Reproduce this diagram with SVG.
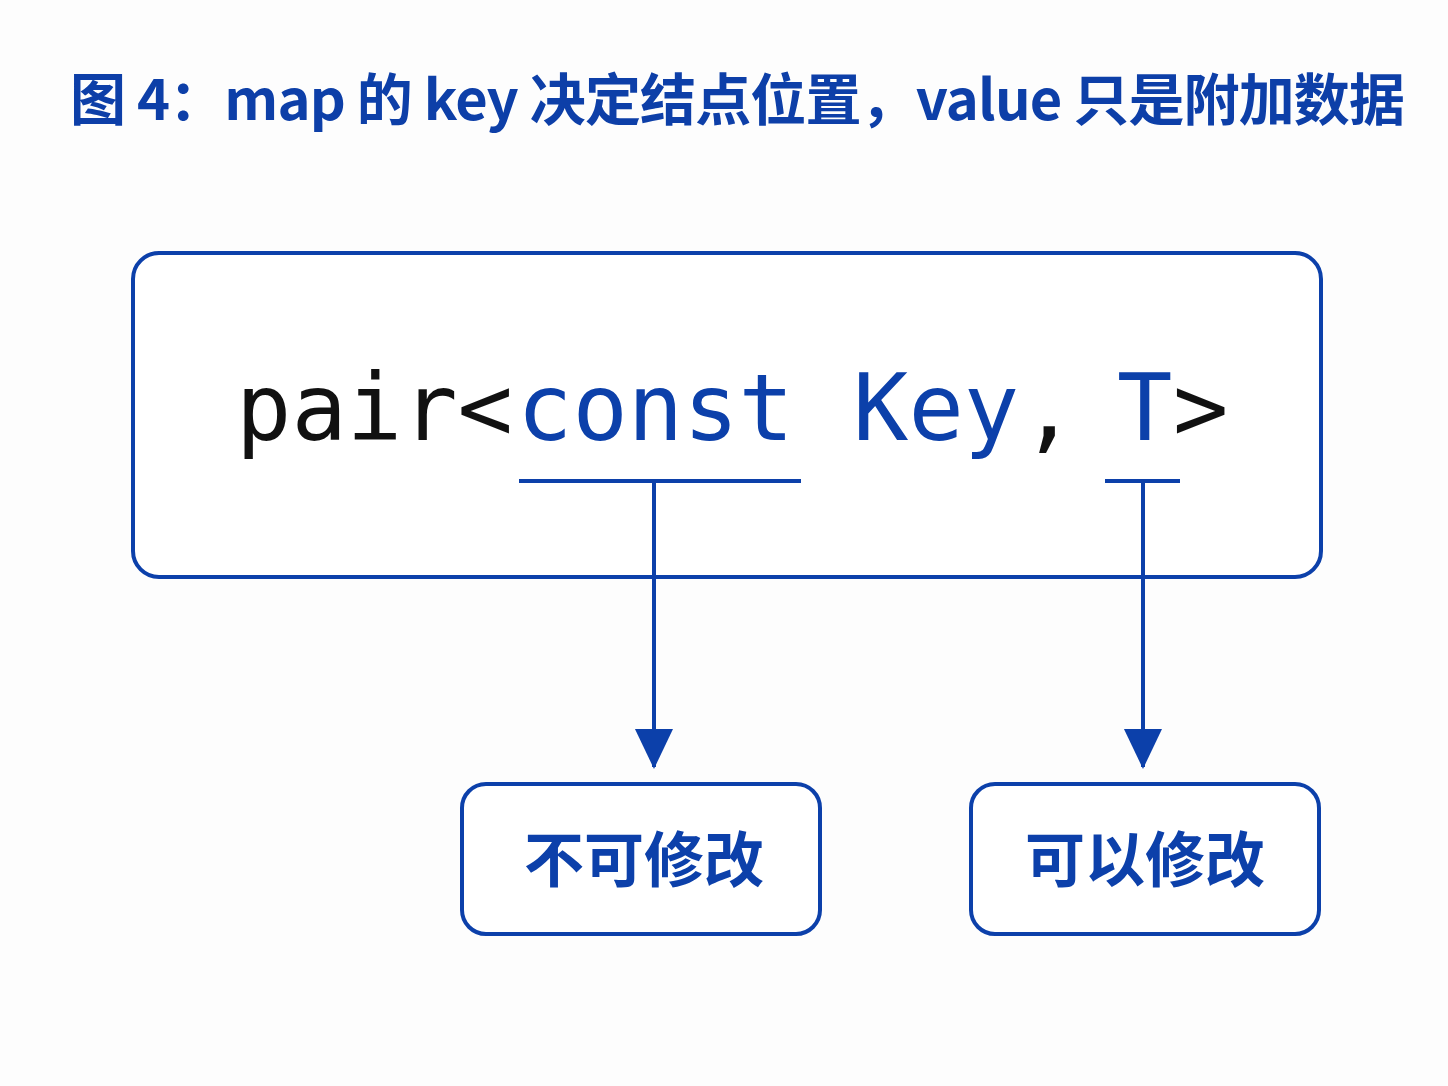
<svg xmlns="http://www.w3.org/2000/svg" width="1448" height="1086" viewBox="0 0 1448 1086">
  <defs>
    <style>
      .box { fill: #ffffff; stroke: #0c40aa; stroke-width: 4; }
      .line { stroke: #0c40aa; stroke-width: 4; fill: none; }
      .title { font-family: "Noto Sans CJK SC", "Noto Sans", sans-serif; font-weight: 700; font-size: 56px; fill: #0d3fa8; }
      .code { font-family: "DejaVu Sans Mono", "Liberation Mono", monospace; font-size: 92px; }
      .black { fill: #111111; }
      .blue { fill: #0c40aa; }
      .label { font-family: "Noto Sans CJK SC", sans-serif; font-weight: 700; font-size: 60px; fill: #0c40aa; text-anchor: middle; }
    </style>
    <marker id="arrow" viewBox="0 0 40 42" refX="40" refY="20" markerWidth="42" markerHeight="40" markerUnits="userSpaceOnUse" orient="auto">
      <path d="M0,0 L42,20 L0,40 Z" fill="#0c40aa"/>
    </marker>
  </defs>
  <rect width="1448" height="1086" fill="#fdfdfd"/>
  <text class="title" x="70" y="120" textLength="1335" lengthAdjust="spacing">图 4：map 的 key 决定结点位置，value 只是附加数据</text>

  <g id="pair-box">
    <rect class="box" x="133" y="253" width="1188" height="324" rx="26"/>
    <text class="code" y="440"><tspan class="black" x="236">pair&lt;</tspan><tspan class="blue" x="517">const</tspan><tspan class="blue" x="853">Key</tspan><tspan class="black" x="1021">,</tspan><tspan class="blue" x="1117">T</tspan><tspan class="black" x="1173">&gt;</tspan></text>
  </g>

  <g id="connectors">
    <line class="line" x1="519" y1="481" x2="801" y2="481"/>
    <line class="line" x1="654" y1="481" x2="654" y2="767" marker-end="url(#arrow)"/>
    <line class="line" x1="1105" y1="481" x2="1180" y2="481"/>
    <line class="line" x1="1143" y1="481" x2="1143" y2="767" marker-end="url(#arrow)"/>
  </g>

  <g id="immutable">
    <rect class="box" x="462" y="784" width="358" height="150" rx="24"/>
    <text class="label" x="644" y="882">不可修改</text>
  </g>

  <g id="mutable">
    <rect class="box" x="971" y="784" width="348" height="150" rx="24"/>
    <text class="label" x="1145" y="882">可以修改</text>
  </g>
</svg>
